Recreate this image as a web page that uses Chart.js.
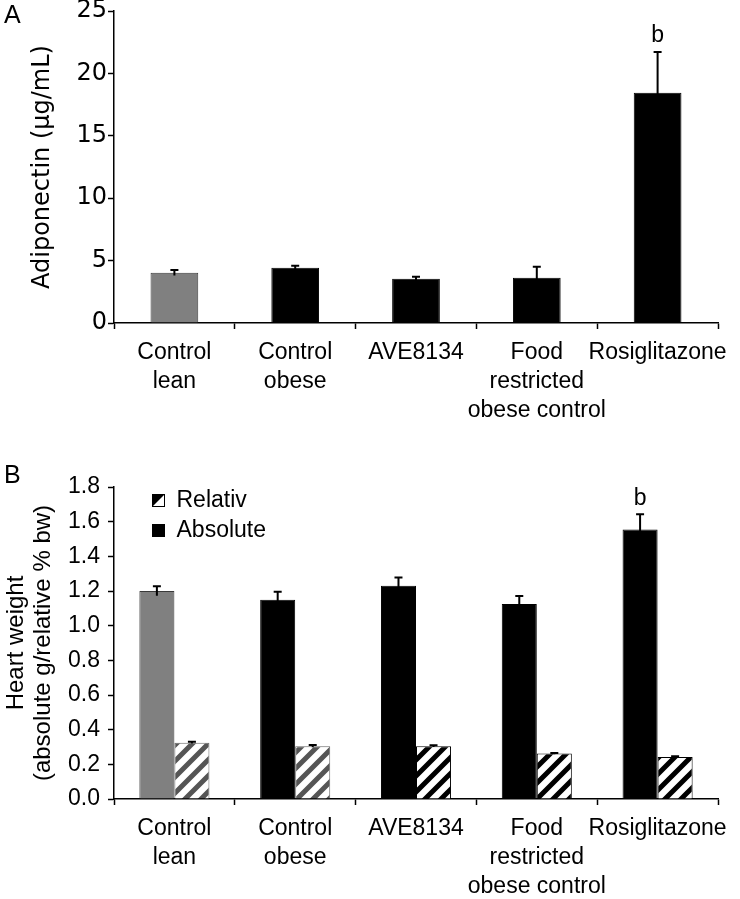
<!DOCTYPE html>
<html>
<head>
<meta charset="utf-8">
<script src="https://cdn.jsdelivr.net/npm/chart.js@4"></script>
<style>
  body { margin: 0; background: #fff; }
  canvas { position: absolute; left: 0; }
  #chartA { top: 0; }
  #chartB { top: 440px; }
</style>
</head>
<body>
<canvas id="chartA" width="740" height="440"></canvas>
<canvas id="chartB" width="740" height="459"></canvas>
<script>
const categories = [
  ['Control', 'lean'],
  ['Control', 'obese'],
  'AVE8134',
  ['Food', 'restricted', 'obese control'],
  'Rosiglitazone',
];

// panel A
const adiponectin = [4.03, 4.43, 3.55, 3.63, 18.44];
const adiponectinErr = [0.22, 0.16, 0.16, 0.88, 3.28];
const adiponectinMarks = ['', '', '', '', 'b'];

// panel B
const heartAbsolute = [1.2, 1.15, 1.23, 1.125, 1.555];
const heartAbsoluteErr = [0.027, 0.045, 0.048, 0.046, 0.088];
const heartRelative = [0.325, 0.305, 0.305, 0.262, 0.243];
const heartRelativeErr = [0.005, 0.006, 0.005, 0.004, 0.004];
const heartMarks = ['', '', '', '', 'b'];

const FONT = '"Liberation Sans", Arial, sans-serif';
const WIDE = '"DejaVu Sans", sans-serif';
Chart.defaults.font.family = FONT;
Chart.defaults.font.size = 23;
Chart.defaults.color = '#000';

function hatch(ctx, color) {
  const s = 16;
  const c = document.createElement('canvas');
  c.width = s;
  c.height = s;
  const g = c.getContext('2d');
  g.fillStyle = '#fff';
  g.fillRect(0, 0, s, s);
  g.strokeStyle = color;
  g.lineWidth = 5;
  g.beginPath();
  g.moveTo(-s / 2, s / 2); g.lineTo(s / 2, -s / 2);
  g.moveTo(0, s); g.lineTo(s, 0);
  g.moveTo(s / 2, s * 1.5); g.lineTo(s * 1.5, s / 2);
  g.stroke();
  return ctx.createPattern(c, 'repeat');
}

function legendIcon(kind) {
  const c = document.createElement('canvas');
  c.width = 13;
  c.height = 13;
  const g = c.getContext('2d');
  g.fillStyle = '#fff';
  g.fillRect(0, 0, 13, 13);
  g.fillStyle = '#000';
  if (kind === 'hatch') {
    g.beginPath();
    g.moveTo(0, 0); g.lineTo(13, 0); g.lineTo(0, 13);
    g.closePath();
    g.fill();
    g.strokeStyle = '#000';
    g.lineWidth = 1;
    g.strokeRect(0.5, 0.5, 12, 12);
  } else {
    g.fillRect(0, 0, 13, 13);
  }
  return c;
}

// error bars + significance letters, positioned through the y scale
const errorBars = {
  id: 'errorBars',
  afterDatasetsDraw(chart) {
    const { ctx } = chart;
    const y = chart.scales.y;
    chart.data.datasets.forEach((ds, di) => {
      if (!ds.errors) return;
      chart.getDatasetMeta(di).data.forEach((bar, i) => {
        const v = ds.data[i];
        const e = ds.errors[i];
        const top = y.getPixelForValue(v + e);
        const bot = y.getPixelForValue(v - e);
        ctx.save();
        ctx.strokeStyle = '#000';
        ctx.lineWidth = 2;
        ctx.beginPath();
        ctx.moveTo(bar.x, bot);
        ctx.lineTo(bar.x, top);
        ctx.moveTo(bar.x - 4, top);
        ctx.lineTo(bar.x + 4, top);
        ctx.stroke();
        if (ds.marks && ds.marks[i]) {
          ctx.fillStyle = '#000';
          ctx.font = '23px ' + FONT;
          ctx.textAlign = 'center';
          ctx.textBaseline = 'middle';
          ctx.fillText(ds.marks[i], bar.x, top - 16);
        }
        ctx.restore();
      });
    });
  },
};

const panelLabel = {
  id: 'panelLabel',
  afterDraw(chart, args, opts) {
    const { ctx } = chart;
    ctx.save();
    ctx.fillStyle = '#000';
    ctx.font = '25px ' + FONT;
    ctx.textBaseline = 'alphabetic';
    ctx.fillText(opts.text, opts.x, opts.y);
    ctx.restore();
  },
};

// put the legend inside the plot, top left
const legendPlace = {
  id: 'legendPlace',
  afterLayout(chart) {
    const lg = chart.legend;
    const area = chart.chartArea;
    if (!lg || !area) return;
    const h = lg.height;
    lg.left = area.left + 31;
    lg.right = lg.left + lg.width;
    lg.top = area.top - 5;
    lg.bottom = lg.top + Math.max(h, 100);
  },
};

function xScale(height) {
  return {
    grid: { offset: true, drawOnChartArea: false, tickLength: 6, tickWidth: 1.5, tickColor: '#000' },
    border: { color: '#000', width: 1.5 },
    ticks: { color: '#000', padding: 9, maxRotation: 0, autoSkip: false, font: { size: 23, lineHeight: 1.26 } },
    afterFit: (s) => {
      s.height = height;
      s.paddingLeft = 0;
      s.paddingRight = 0;
    },
  };
}

function yGrid() {
  return { drawOnChartArea: false, tickLength: 6, tickWidth: 1.5, tickColor: '#000' };
}

const ctxA = document.getElementById('chartA');
new Chart(ctxA, {
  type: 'bar',
  data: {
    labels: categories,
    datasets: [
      {
        label: 'Adiponectin',
        data: adiponectin,
        errors: adiponectinErr,
        marks: adiponectinMarks,
        backgroundColor: ['#808080', '#000', '#000', '#000', '#000'],
        borderColor: ['#3a3a3a', '#000', '#000', '#000', '#000'],
        borderWidth: 1,
        barPercentage: 1,
        categoryPercentage: 0.395,
      },
    ],
  },
  options: {
    responsive: false,
    animation: false,
    layout: { padding: { top: 11, right: 22, left: 0, bottom: 0 } },
    plugins: {
      legend: { display: false },
      tooltip: { enabled: false },
      panelLabel: { text: 'A', x: 4, y: 23 },
    },
    scales: {
      x: xScale(117),
      y: {
        min: 0,
        max: 25,
        ticks: { stepSize: 5, padding: 1, color: '#000', font: { family: WIDE, size: 24, lineHeight: 1 } },
        grid: yGrid(),
        border: { color: '#000', width: 1.5 },
        title: {
          display: true,
          text: 'Adiponectin (µg/mL)',
          color: '#000',
          font: { family: WIDE, size: 24, lineHeight: 1.2 },
          padding: { top: 28, bottom: 0 },
        },
        afterFit: (s) => {
          s.width = 114;
          s.paddingTop = 0;
          s.paddingBottom = 0;
        },
      },
    },
  },
  plugins: [errorBars, panelLabel],
});

const ctxB = document.getElementById('chartB');
const g2d = ctxB.getContext('2d');
const greyHatch = hatch(g2d, '#555');
const blackHatch = hatch(g2d, '#000');
const icons = { Relativ: legendIcon('hatch'), Absolute: legendIcon('solid') };

new Chart(ctxB, {
  type: 'bar',
  data: {
    labels: categories,
    datasets: [
      {
        label: 'Absolute',
        data: heartAbsolute,
        errors: heartAbsoluteErr,
        marks: heartMarks,
        backgroundColor: ['#808080', '#000', '#000', '#000', '#000'],
        borderColor: ['#3a3a3a', '#000', '#000', '#000', '#000'],
        borderWidth: 1,
        barPercentage: 1,
        categoryPercentage: 0.58,
      },
      {
        label: 'Relativ',
        data: heartRelative,
        errors: heartRelativeErr,
        backgroundColor: [greyHatch, greyHatch, blackHatch, blackHatch, blackHatch],
        borderColor: ['#666', '#666', '#000', '#000', '#000'],
        borderWidth: 1,
        barPercentage: 1,
        categoryPercentage: 0.58,
      },
    ],
  },
  options: {
    responsive: false,
    animation: false,
    layout: { padding: { top: 47, right: 22, left: 0, bottom: 0 } },
    plugins: {
      tooltip: { enabled: false },
      panelLabel: { text: 'B', x: 4, y: 43 },
      legend: {
        display: true,
        position: 'chartArea',
        align: 'start',
        reverse: true,
        labels: {
          usePointStyle: true,
          boxWidth: 13,
          boxHeight: 13,
          padding: 7,
          color: '#000',
          font: { size: 23 },
          generateLabels(chart) {
            const items = Chart.defaults.plugins.legend.labels.generateLabels(chart);
            items.forEach((it) => {
              it.pointStyle = icons[it.text];
            });
            return items;
          },
        },
      },
    },
    scales: {
      x: xScale(100),
      y: {
        min: 0,
        max: 1.8,
        ticks: {
          stepSize: 0.2,
          padding: 8,
          color: '#000',
          font: { size: 23, lineHeight: 1 },
          callback: (v) => Number(v).toFixed(1),
        },
        grid: yGrid(),
        border: { color: '#000', width: 1.5 },
        title: {
          display: true,
          text: ['Heart weight', '(absolute g/relative % bw)'],
          color: '#000',
          font: { size: 24, lineHeight: 1.125 },
          padding: { top: 3, bottom: 0 },
        },
        afterFit: (s) => {
          s.width = 114;
          s.paddingTop = 0;
          s.paddingBottom = 0;
        },
      },
    },
  },
  plugins: [errorBars, panelLabel, legendPlace],
});
</script>
</body>
</html>
